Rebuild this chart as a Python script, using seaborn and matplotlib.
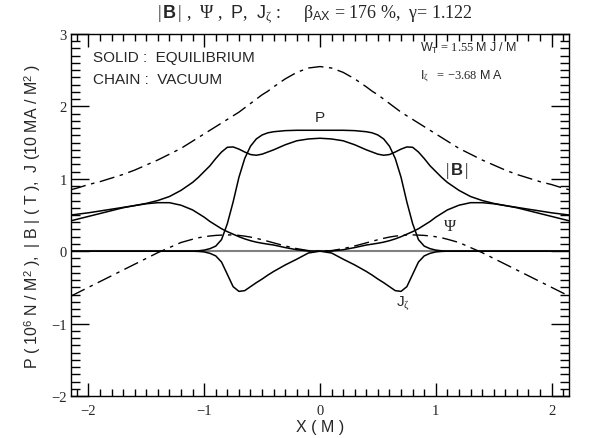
import matplotlib
matplotlib.use("Agg")
import matplotlib.pyplot as plt
import seaborn as sns
from matplotlib.ticker import MultipleLocator

# positions along the chord (M)
x_m = [-2.15, -2.1, -2.0, -1.9, -1.8, -1.7, -1.6, -1.5, -1.4, -1.3, -1.2, -1.1,
       -1.05, -1.0, -0.95, -0.9, -0.85, -0.8, -0.75, -0.7, -0.65, -0.6, -0.55,
       -0.5, -0.45, -0.4, -0.3, -0.2, -0.1, 0.0,
       0.1, 0.2, 0.3, 0.4, 0.45, 0.5, 0.55, 0.6, 0.65, 0.7, 0.75, 0.8, 0.85,
       0.9, 0.95, 1.0, 1.05, 1.1, 1.2, 1.3, 1.4, 1.5, 1.6, 1.7, 1.8, 1.9, 2.0,
       2.1, 2.15]

# |B| (T)
b_mag = [0.50, 0.51, 0.53, 0.555, 0.58, 0.605, 0.63, 0.66, 0.70, 0.755, 0.84, 0.95,
         1.02, 1.10, 1.18, 1.28, 1.37, 1.435, 1.44, 1.41, 1.37, 1.335, 1.325,
         1.34, 1.37, 1.40, 1.47, 1.525, 1.55, 1.56,
         1.55, 1.525, 1.47, 1.40, 1.37, 1.34, 1.325, 1.335, 1.37, 1.41, 1.44, 1.435, 1.37,
         1.28, 1.18, 1.10, 1.02, 0.95, 0.84, 0.755, 0.70, 0.66, 0.63, 0.605, 0.58, 0.555, 0.53,
         0.51, 0.50]

# second field component (solid, no label)
b_pol = [0.42, 0.44, 0.48, 0.52, 0.56, 0.60, 0.63, 0.655, 0.67, 0.67, 0.635, 0.57,
         0.52, 0.47, 0.41, 0.36, 0.31, 0.27, 0.235, 0.20, 0.17, 0.145, 0.125,
         0.11, 0.097, 0.085, 0.05, 0.02, 0.003, 0.0,
         0.003, 0.02, 0.05, 0.085, 0.097, 0.11, 0.125, 0.145, 0.17, 0.20, 0.235, 0.27, 0.31,
         0.36, 0.41, 0.47, 0.52, 0.57, 0.635, 0.67, 0.67, 0.655, 0.63, 0.60, 0.56, 0.52, 0.48,
         0.44, 0.42]

# pressure P
p = [0, 0, 0, 0, 0, 0, 0, 0, 0, 0, 0, 0,
     0.005, 0.015, 0.035, 0.07, 0.16, 0.38, 0.68, 1.02, 1.28, 1.45, 1.55,
     1.605, 1.635, 1.65, 1.665, 1.67, 1.67, 1.67,
     1.67, 1.67, 1.665, 1.65, 1.635, 1.605, 1.55, 1.45, 1.28, 1.02, 0.68, 0.38, 0.16,
     0.07, 0.035, 0.015, 0.005, 0, 0, 0, 0, 0, 0, 0, 0, 0, 0,
     0, 0]

# flux Psi (dash-dot)
psi = [-0.62, -0.58, -0.50, -0.42, -0.34, -0.26, -0.18, -0.10, -0.02, 0.05, 0.12, 0.165,
       0.185, 0.20, 0.21, 0.218, 0.222, 0.225, 0.224, 0.218, 0.208, 0.195, 0.178,
       0.158, 0.137, 0.115, 0.072, 0.035, 0.008, 0.0,
       0.008, 0.035, 0.072, 0.115, 0.137, 0.158, 0.178, 0.195, 0.208, 0.218, 0.224, 0.225, 0.222,
       0.218, 0.21, 0.20, 0.185, 0.165, 0.12, 0.05, -0.02, -0.10, -0.18, -0.26, -0.34, -0.42, -0.50,
       -0.58, -0.62]

# toroidal current density J_zeta
j_zeta = [0, 0, 0, 0, 0, 0, 0, 0, 0, 0, 0, 0,
          -0.003, -0.01, -0.03, -0.065, -0.15, -0.32, -0.49, -0.555, -0.545, -0.49, -0.435,
          -0.385, -0.33, -0.28, -0.19, -0.11, -0.025, 0.0,
          -0.025, -0.11, -0.19, -0.28, -0.33, -0.385, -0.435, -0.49, -0.545, -0.555, -0.49, -0.32, -0.15,
          -0.065, -0.03, -0.01, -0.003, 0, 0, 0, 0, 0, 0, 0, 0, 0, 0,
          0, 0]

# upper dash-dot curve
b_tor = [0.85, 0.87, 0.92, 0.96, 1.01, 1.06, 1.12, 1.19, 1.26, 1.34, 1.42, 1.52,
         1.57, 1.62, 1.67, 1.72, 1.77, 1.82, 1.87, 1.92, 1.98, 2.04, 2.10,
         2.16, 2.21, 2.27, 2.38, 2.47, 2.53, 2.55,
         2.53, 2.47, 2.38, 2.27, 2.21, 2.16, 2.10, 2.04, 1.98, 1.92, 1.87, 1.82, 1.77,
         1.72, 1.67, 1.62, 1.57, 1.52, 1.42, 1.34, 1.26, 1.19, 1.12, 1.06, 1.01, 0.96, 0.92,
         0.87, 0.85]

sns.set_style("ticks")
plt.rcParams['font.family'] = ['Liberation Sans', 'DejaVu Sans']
plt.rcParams['mathtext.fontset'] = 'custom'
plt.rcParams['mathtext.rm'] = 'Liberation Serif'
plt.rcParams['mathtext.it'] = 'Liberation Serif:italic'
plt.rcParams['mathtext.bf'] = 'Liberation Sans:bold'
plt.rcParams['mathtext.sf'] = 'Liberation Sans'

fig = plt.figure(figsize=(5.94, 4.39), dpi=100)
ax = fig.add_axes([0.1195, 0.0957, 0.8384, 0.8246])

dashdot = (0, (11, 4, 2.5, 4))
ax.axhline(0, color='#808080', lw=1.5, zorder=1)
sns.lineplot(x=x_m, y=b_tor, ax=ax, color='k', lw=1.0, linestyle=dashdot)
sns.lineplot(x=x_m, y=psi, ax=ax, color='k', lw=1.0, linestyle=dashdot)
sns.lineplot(x=x_m, y=b_mag, ax=ax, color='k', lw=1.1)
sns.lineplot(x=x_m, y=b_pol, ax=ax, color='k', lw=1.1)
sns.lineplot(x=x_m, y=p, ax=ax, color='k', lw=1.1)
sns.lineplot(x=x_m, y=j_zeta, ax=ax, color='k', lw=1.1)

ax.set_xlim(-2.15, 2.15)
ax.set_ylim(-2, 3)
ax.set_xticks([-2, -1, 0, 1, 2])
ax.set_yticks([-2, -1, 0, 1, 2, 3])
ax.xaxis.set_minor_locator(MultipleLocator(0.1))
ax.yaxis.set_minor_locator(MultipleLocator(0.1))
ax.tick_params(which='both', direction='in', top=True, right=True, color='k', width=1.0)
ax.tick_params(axis='x', which='major', length=9.5, pad=5.5)
ax.tick_params(axis='x', which='minor', length=5)
ax.tick_params(axis='y', which='major', length=13, pad=3)
ax.tick_params(axis='y', which='minor', length=6.5)
for lab in ax.get_xticklabels() + ax.get_yticklabels():
    lab.set_fontfamily('Liberation Serif')
    lab.set_fontsize(10.5)
for s in ax.spines.values():
    s.set_linewidth(1.0)
    s.set_color('k')

ax.set_xlabel('X ( M )', fontsize=11.5, labelpad=2)
ax.set_ylabel(r'P ( 10$^{\mathsf{6}}$ N / M$^{\mathsf{2}}$ ),  | B | ( T ),  J (10 MA / M$^{\mathsf{2}}$ )',
              fontsize=11.5, labelpad=6)

fig.text(0.53, 0.967,
         r'$|\,\mathbf{B}\,|$ ,  $\mathrm{\Psi}$ ,  $\mathsf{P}$,  $\mathsf{J}_{\mathrm{\zeta}}$ :     '
         r'$\mathrm{\beta}_{\mathsf{AX}}$ = 176 %,  $\mathrm{\gamma}$= 1.122',
         ha='center', va='center', fontsize=13, family='Liberation Serif')

ax.text(0.044, 0.936, 'SOLID :  EQUILIBRIUM', transform=ax.transAxes,
        fontsize=11, va='center', ha='left')
ax.text(0.044, 0.876, 'CHAIN :  VACUUM', transform=ax.transAxes,
        fontsize=11, va='center', ha='left')
ax.text(0.70, 0.964, r'$\mathsf{W_T}$ = 1.55 $\mathsf{M\ J\ /\ M}$', transform=ax.transAxes,
        fontsize=9, va='center', ha='left', family='Liberation Serif')
ax.text(0.70, 0.887, r'$\mathsf{I}_{\mathrm{\zeta}}$   = $-$3.68 $\mathsf{M\ A}$', transform=ax.transAxes,
        fontsize=9, va='center', ha='left', family='Liberation Serif')

ax.text(0.0, 1.85, 'P', fontsize=11, ha='center', va='center')
ax.text(1.18, 1.12, r'$|\,\mathbf{B}\,|$', fontsize=12, ha='center', va='center')
ax.text(1.12, 0.36, r'$\mathrm{\Psi}$', fontsize=12, ha='center', va='center')
ax.text(0.72, -0.72, r'$\mathsf{J}_{\mathrm{\zeta}}$', fontsize=11, ha='center', va='center')

fig.savefig('out.png', dpi=100)
